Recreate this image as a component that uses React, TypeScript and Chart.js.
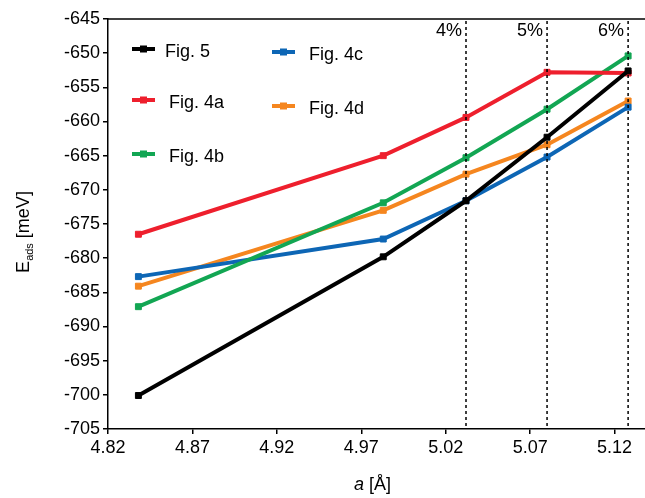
import React, { useEffect, useRef } from "react";
import { Chart, registerables } from "chart.js";

Chart.register(...registerables);

const latticeA = [4.838, 4.983, 5.032, 5.08, 5.128];
const fig5 = [-700.1, -679.8, -671.6, -662.3, -652.6];
const fig4a = [-676.5, -665.0, -659.4, -652.8, -652.9];
const fig4b = [-687.1, -671.9, -665.3, -658.2, -650.4];
const fig4c = [-682.7, -677.2, -671.6, -665.2, -657.9];
const fig4d = [-684.1, -673.0, -667.7, -663.4, -657.0];

const seriesNames = ["Fig. 5", "Fig. 4a", "Fig. 4b", "Fig. 4c", "Fig. 4d"];
const seriesValues = [fig5, fig4a, fig4b, fig4c, fig4d];
const seriesColors = ["#000000", "#ee1f2d", "#12a653", "#0d66b5", "#f5861f"];

const xTickValues = [4.82, 4.87, 4.92, 4.97, 5.02, 5.07, 5.12];
const strainA = [5.032, 5.08, 5.128];
const strainLabels = ["4%", "5%", "6%"];

const FONT = "'Liberation Sans', Arial, Helvetica, sans-serif";

// legend layout: [lineX0, lineY, textX]
const legendSlots = [
  [132, 49, 165],
  [132, 100, 169],
  [132, 154, 169],
  [272, 52, 309],
  [272, 106, 309],
];

const overlayPlugin = {
  id: "overlay",
  afterDatasetsDraw(chart: any) {
    const { ctx, chartArea, scales } = chart;
    const x = scales.x;
    ctx.save();
    // top frame line
    ctx.strokeStyle = "#000";
    ctx.lineWidth = 1.5;
    ctx.beginPath();
    ctx.moveTo(chartArea.left, chartArea.top);
    ctx.lineTo(chart.width, chartArea.top);
    ctx.stroke();

    // strain lines
    ctx.font = `18px ${FONT}`;
    ctx.fillStyle = "#000";
    strainA.forEach((a, i) => {
      const px = x.getPixelForValue(a);
      ctx.save();
      ctx.setLineDash([3, 3]);
      ctx.lineWidth = 1.5;
      ctx.beginPath();
      ctx.moveTo(px, chartArea.top + 2);
      ctx.lineTo(px, chartArea.bottom - 3);
      ctx.stroke();
      ctx.restore();
      ctx.textAlign = "right";
      ctx.textBaseline = "middle";
      ctx.fillText(strainLabels[i], px - 4, 31);
    });

    // legend
    seriesNames.forEach((name, i) => {
      const [lx, ly, tx] = legendSlots[i];
      ctx.strokeStyle = seriesColors[i];
      ctx.fillStyle = seriesColors[i];
      ctx.lineWidth = 4;
      ctx.beginPath();
      ctx.moveTo(lx, ly);
      ctx.lineTo(lx + 23, ly);
      ctx.stroke();
      ctx.fillRect(lx + 11.5 - 3.5, ly - 3.5, 7, 7);
      ctx.fillStyle = "#000";
      ctx.textAlign = "left";
      ctx.textBaseline = "middle";
      ctx.font = `18px ${FONT}`;
      ctx.fillText(name, tx, ly + 3);
    });

    // x title
    ctx.textBaseline = "middle";
    ctx.font = `italic 18px ${FONT}`;
    const aW = ctx.measureText("a").width;
    ctx.font = `18px ${FONT}`;
    const restW = ctx.measureText(" [Å]").width;
    const cx = (chartArea.left + chart.width) / 2 - 4;
    const sx = cx - (aW + restW) / 2;
    ctx.textAlign = "left";
    ctx.font = `italic 18px ${FONT}`;
    ctx.fillText("a", sx, 485);
    ctx.font = `18px ${FONT}`;
    ctx.fillText(" [Å]", sx + aW, 485);

    // y title
    ctx.save();
    ctx.translate(29, 232);
    ctx.rotate(-Math.PI / 2);
    ctx.textBaseline = "alphabetic";
    ctx.textAlign = "left";
    ctx.font = `18px ${FONT}`;
    const eW = ctx.measureText("E").width;
    const mW = ctx.measureText(" [meV]").width;
    ctx.font = `11px ${FONT}`;
    const sW = ctx.measureText("ads").width;
    const total = eW + sW + mW;
    let p = -total / 2;
    ctx.font = `18px ${FONT}`;
    ctx.fillText("E", p, 0);
    p += eW;
    ctx.font = `11px ${FONT}`;
    ctx.fillText("ads", p, 4);
    p += sW;
    ctx.font = `18px ${FONT}`;
    ctx.fillText(" [meV]", p, 0);
    ctx.restore();

    ctx.restore();
  },
};

export default function App() {
  const ref = useRef<HTMLCanvasElement>(null);
  useEffect(() => {
    document.body.style.margin = "0";
    const datasets = seriesNames.map((name, i) => ({
      label: name,
      data: latticeA.map((a, j) => ({ x: a, y: seriesValues[i][j] })),
      borderColor: seriesColors[i],
      backgroundColor: seriesColors[i],
      borderWidth: 4,
      pointStyle: "rect" as const,
      pointRadius: 4.2,
      pointBorderWidth: 1,
      tension: 0,
      fill: false,
    }));
    const chart = new Chart(ref.current!, {
      type: "line",
      data: { datasets },
      plugins: [overlayPlugin],
      options: {
        animation: false,
        responsive: false,
        maintainAspectRatio: false,
        layout: { autoPadding: false, padding: { left: 0, top: 19, right: 0, bottom: 0 } },
        plugins: { legend: { display: false }, tooltip: { enabled: false } },
        scales: {
          x: {
            type: "linear",
            min: 4.82,
            max: 5.138,
            afterBuildTicks: (s: any) => {
              s.ticks = xTickValues.map((v) => ({ value: v }));
            },
            afterFit: (s: any) => {
              s.height = 69;
              s.paddingRight = 0;
              s.paddingLeft = 0;
            },
            ticks: {
              color: "#000",
              font: { family: FONT, size: 18 },
              padding: 3,
              maxRotation: 0,
              autoSkip: false,
              callback: (v: any) => Number(v).toFixed(2),
            },
            grid: { drawOnChartArea: false, drawTicks: true, tickLength: 5, color: "#000", lineWidth: 1.5 },
            border: { display: true, color: "#000", width: 1.5 },
          },
          y: {
            type: "linear",
            min: -705,
            max: -645,
            afterFit: (s: any) => {
              s.width = 108;
              s.paddingTop = 0;
              s.paddingBottom = 0;
            },
            ticks: {
              stepSize: 5,
              color: "#000",
              font: { family: FONT, size: 18 },
              padding: 3,
            },
            grid: { drawOnChartArea: false, drawTicks: true, tickLength: 5, color: "#000", lineWidth: 1.5 },
            border: { display: true, color: "#000", width: 1.5 },
          },
        },
      },
    });
    return () => chart.destroy();
  }, []);
  return (
    <div style={{ position: "absolute", left: 0, top: 0, width: 645, height: 498 }}>
      <canvas ref={ref} width={645} height={498} style={{ width: 645, height: 498 }} />
    </div>
  );
}
